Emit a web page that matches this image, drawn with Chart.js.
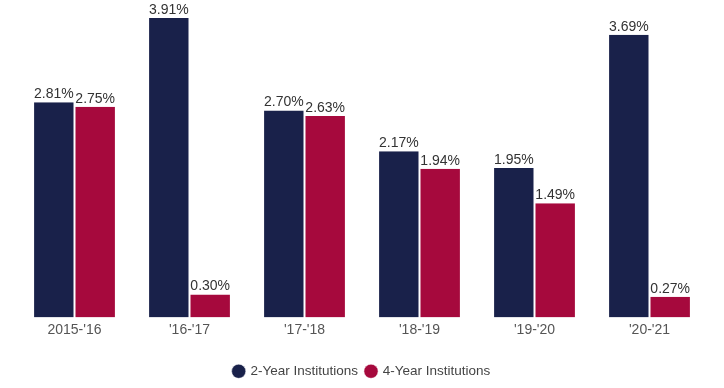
<!DOCTYPE html>
<html>
<head>
<meta charset="utf-8">
<script src="https://cdn.jsdelivr.net/npm/chart.js@4"></script>
<style>
  html, body { margin: 0; padding: 0; background: #fff; }
  #wrap { width: 724px; height: 388px; }
</style>
</head>
<body>
<div id="wrap"><canvas id="chart"></canvas></div>
<script>
// chart data
const years = ["2015-'16", "'16-'17", "'17-'18", "'18-'19", "'19-'20", "'20-'21"];
const twoYear = [2.81, 3.91, 2.70, 2.17, 1.95, 3.69];
const fourYear = [2.75, 0.30, 2.63, 1.94, 1.49, 0.27];

const NAVY = "#19214a";
const CRIMSON = "#a6093d";
const FONT = "'Liberation Sans', Arial, sans-serif";

// draws the % value above each bar
const barLabels = {
  id: "barLabels",
  afterDatasetsDraw(chart) {
    const ctx = chart.ctx;
    ctx.save();
    ctx.font = "14px " + FONT;
    ctx.fillStyle = "#333";
    ctx.textAlign = "center";
    ctx.textBaseline = "bottom";
    chart.data.datasets.forEach((ds, i) => {
      chart.getDatasetMeta(i).data.forEach((bar, j) => {
        ctx.fillText(ds.data[j].toFixed(2) + "%", bar.x, bar.y - 1);
      });
    });
    ctx.restore();
  }
};

new Chart(document.getElementById("chart"), {
  type: "bar",
  data: {
    labels: years,
    datasets: [
      { label: "2-Year Institutions", data: twoYear, backgroundColor: NAVY, borderColor: "#fff", borderWidth: { left: 1, right: 1 } },
      { label: "4-Year Institutions", data: fourYear, backgroundColor: CRIMSON, borderColor: "#fff", borderWidth: { left: 1, right: 1 } }
    ]
  },
  options: {
    responsive: true,
    maintainAspectRatio: false,
    animation: false,
    categoryPercentage: 0.72,
    barPercentage: 1,
    layout: { padding: { left: 17, right: 17, top: 11, bottom: 0 } },
    scales: {
      x: {
        grid: { display: false, drawTicks: false, tickLength: 0 },
        border: { display: false },
        ticks: { color: "#555", font: { family: FONT, size: 14 }, padding: 4 },
        afterFit(scale) { scale.height = 39; }
      },
      y: {
        display: false,
        min: 0,
        max: 4
      }
    },
    plugins: {
      legend: {
        position: "bottom",
        labels: {
          usePointStyle: true,
          pointStyle: "circle",
          boxWidth: 10,
          boxHeight: 10,
          padding: 8,
          color: "#444",
          font: { family: FONT, size: 13.5 }
        }
      },
      tooltip: { enabled: false }
    }
  },
  plugins: [barLabels]
});
</script>
</body>
</html>
